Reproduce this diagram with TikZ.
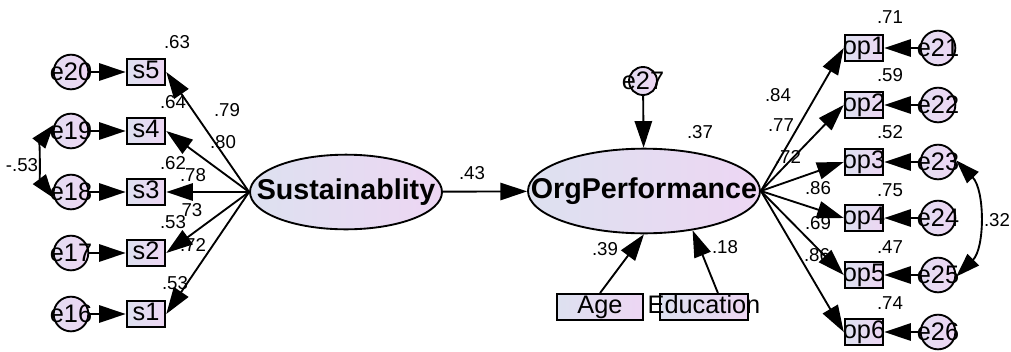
\documentclass[tikz,border=0pt]{standalone}
\usepackage{fontspec}
\setmainfont{Liberation Sans}
\usetikzlibrary{shapes.geometric,arrows.meta}
\definecolor{lc}{HTML}{DDE1F0}
\definecolor{rc}{HTML}{EDD6F3}
\begin{document}
\begin{tikzpicture}[x=0.75pt,y=-0.75pt,
 lat/.style={ellipse,draw,line width=1.4pt,left color=lc,right color=rc,inner sep=0pt,font=\fontsize{21.5}{24}\selectfont\bfseries},
 obs/.style={rectangle,draw,line width=1.4pt,left color=lc,right color=rc,minimum width=29pt,minimum height=19pt,inner sep=0pt,text height=13pt,text depth=3.5pt,font=\fontsize{19}{21}\selectfont},
 err/.style={circle,draw,line width=1.4pt,left color=lc!60!rc,right color=rc,minimum size=26pt,inner sep=0pt,font=\fontsize{19}{21}\selectfont},
 lab/.style={font=\fontsize{14}{16}\selectfont,inner sep=0pt},
 arr/.style={line width=1.4pt,-{Triangle[length=20pt,width=13pt]}},
 cov/.style={line width=1.4pt,{Triangle[length=18pt,width=12pt]}-{Triangle[length=18pt,width=12pt]}}
]
\useasboundingbox (0,0) rectangle (1011,351);
% latent variables
\node[lat,minimum width=144pt,minimum height=56pt] (sus) at (346,192) {\makebox[0pt]{Sustainablity}};
\node[lat,minimum width=174pt,minimum height=63.5pt] (org) at (644,191) {\makebox[0pt]{OrgPerformance}};
% left indicators
\foreach \n/\e/\y in {s5/e20/72, s4/e19/131, s3/e18/192, s2/e17/253, s1/e16/314}{
  \node[obs] (\n) at (146,\y) {\makebox[0pt]{\n}};
  \node[err] (\e) at (71,\y) {\makebox[0pt]{\e}};
  \draw[arr] (\e) -- (\n);
  \draw[arr] (sus.west) -- (\n.east);
}
% right indicators
\foreach \n/\e/\y in {op1/e21/48, op2/e22/105, op3/e23/162, op4/e24/218, op5/e25/275, op6/e26/332}{
  \node[obs] (\n) at (864,\y) {\makebox[0pt]{\n}};
  \node[err] (\e) at (938,\y) {\makebox[0pt]{\e}};
  \draw[arr] (\e) -- (\n);
  \draw[arr] (org.east) -- (\n.west);
}
% disturbance and covariates
\node[err,minimum size=21pt] (e27) at (643,81) {\makebox[0pt]{e27}};
\node[obs,minimum width=64.5pt,minimum height=19.5pt] (age) at (600,307) {\makebox[0pt]{Age}};
\node[obs,minimum width=66pt,minimum height=19.5pt] (edu) at (704,307) {\makebox[0pt]{Education}};
\draw[arr] (sus) -- (org);
\draw[arr] (e27) -- (org);
\draw[arr] (age.north) -- (org.south);
\draw[arr] (edu.45) -- (org.-39);
% covariances
\draw[cov] (e19.160) .. controls (40,142) and (40,180) .. (e18.200);
\draw[cov] (e23.5) .. controls (985,190) and (985,248) .. (e25.-5);
% labels
\node[lab] (l1) at (177,42) {.63};
\node[lab] (l2) at (173,102) {.64};
\node[lab] (l3) at (227,110) {.79};
\node[lab] (l4) at (223,142) {.80};
\node[lab] (l5) at (173,163) {.62};
\node[lab] (l6) at (193,175) {.78};
\node[lab] (l7) at (192,210) {73};
\node[lab] (l8) at (173,222) {.53};
\node[lab] (l9) at (193,245) {.72};
\node[lab] (l10) at (175,283) {.53};
\node[lab] (l11) at (22,165) {-.53};
\node[lab] (l12) at (472,173) {.43};
\node[lab] (l13) at (700,132) {.37};
\node[lab] (l14) at (605,249) {.39};
\node[lab] (l15) at (725,247) {.18};
\node[lab] (l16) at (890,17) {.71};
\node[lab] (l17) at (890,75) {.59};
\node[lab] (l18) at (890,132) {.52};
\node[lab] (l19) at (890,190) {.75};
\node[lab] (l20) at (890,247) {.47};
\node[lab] (l21) at (890,303) {.74};
\node[lab] (l22) at (778,95) {.84};
\node[lab] (l23) at (781,125) {.77};
\node[lab] (l24) at (788,157) {.72};
\node[lab] (l25) at (818,188) {.86};
\node[lab] (l26) at (818,223) {.69};
\node[lab] (l27) at (817,255) {.86};
\node[lab] (l28) at (997,220) {.32};
\end{tikzpicture}
\end{document}
